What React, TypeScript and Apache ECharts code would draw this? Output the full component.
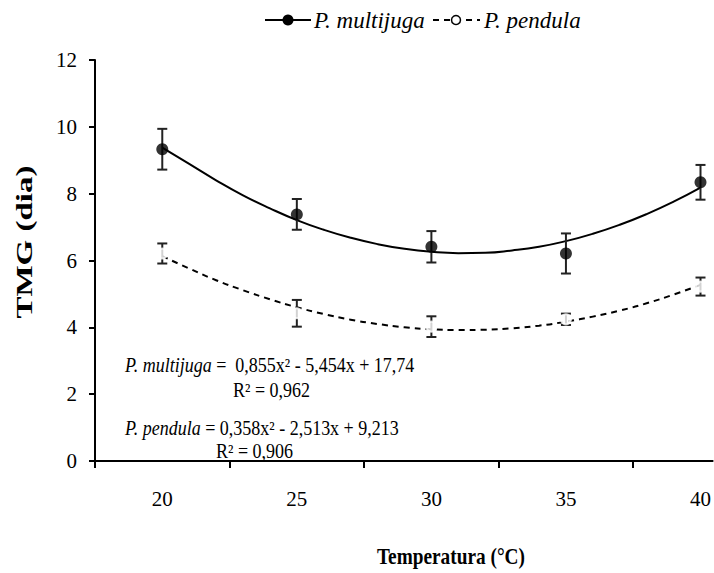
import React, { useEffect, useRef } from "react";
import * as echarts from "echarts";

// ---- data ----
const temps = [20, 25, 30, 35, 40];
const xLabels = [20, 25, 30, 35, 40];
const xTickPositions = [17.5, 22.5, 27.5, 32.5, 37.5];
const multijugaMean = [9.33, 7.38, 6.41, 6.21, 8.34];
const multijugaErr = [0.61, 0.46, 0.47, 0.6, 0.52];
const pendulaMean = [6.21, 4.42, 4.02, 4.24, 5.22];
const pendulaErr = [0.3, 0.4, 0.31, 0.17, 0.27];
// fitted trend curves at each degree
const fitX = [20, 21, 22, 23, 24, 25, 26, 27, 28, 29, 30, 31, 32, 33, 34, 35, 36, 37, 38, 39, 40];
const multijugaFit = [9.38, 8.89, 8.4, 7.95, 7.56, 7.21, 6.92, 6.68, 6.49, 6.35, 6.26, 6.22, 6.23, 6.3, 6.41, 6.58, 6.8, 7.07, 7.39, 7.76, 8.18];
const pendulaFit = [6.13, 5.76, 5.41, 5.11, 4.84, 4.6, 4.4, 4.23, 4.1, 4.0, 3.94, 3.92, 3.93, 3.97, 4.05, 4.17, 4.32, 4.5, 4.72, 4.98, 5.27];

const FONT = "Liberation Serif";

export default function App() {
  const ref = useRef<HTMLDivElement>(null);
  useEffect(() => {
    document.body.style.margin = "0";
    if (!ref.current) return;
    const chart = echarts.init(ref.current, null, { renderer: "svg" });

    const pairs = (xs: number[], ys: number[]) => xs.map((x, i) => [x, ys[i]]);
    const errData = (m: number[], e: number[]) =>
      temps.map((t, i) => [t, m[i] - e[i], m[i] + e[i]]);

    const errorSeries = (name: string, data: number[][]) => ({
      type: "custom",
      name,
      data,
      z: 3,
      renderItem: (params: any, api: any) => {
        const x = api.value(0);
        const lo = api.coord([x, api.value(1)]);
        const hi = api.coord([x, api.value(2)]);
        const w = 5;
        const st = { stroke: "#222", lineWidth: 2 };
        return {
          type: "group",
          children: [
            { type: "line", shape: { x1: hi[0], y1: hi[1], x2: lo[0], y2: lo[1] }, style: st },
            { type: "line", shape: { x1: hi[0] - w, y1: hi[1], x2: hi[0] + w, y2: hi[1] }, style: st },
            { type: "line", shape: { x1: lo[0] - w, y1: lo[1], x2: lo[0] + w, y2: lo[1] }, style: st },
          ],
        };
      },
    });

    const eqStyle = (text: string) => ({
      text,
      fontFamily: FONT,
      fontSize: 20,
      fill: "#000",
      textAlign: "left",
      textVerticalAlign: "middle",
      rich: {
        i: { fontFamily: FONT, fontSize: 20, fontStyle: "italic", fill: "#000" },
        n: { fontFamily: FONT, fontSize: 20, fill: "#000" },
      },
    });

    chart.setOption({
      animation: false,
      backgroundColor: "#fff",
      grid: { left: 95, right: 0, top: 60, bottom: 112, containLabel: false },
      xAxis: {
        type: "value",
        min: 17.5,
        max: 40.45,
        axisLine: { show: true, lineStyle: { color: "#000", width: 2 } },
        axisTick: {
          show: true,
          length: 7,
          customValues: xTickPositions,
          lineStyle: { color: "#000", width: 2 },
        },
        axisLabel: {
          customValues: xLabels,
          margin: 27,
          fontFamily: FONT,
          fontSize: 21,
          color: "#000",
        },
        splitLine: { show: false },
      },
      yAxis: {
        type: "value",
        min: 0,
        max: 12,
        interval: 2,
        axisLine: { show: true, lineStyle: { color: "#000", width: 2 } },
        axisTick: { show: true, length: 6, lineStyle: { color: "#000", width: 2 } },
        axisLabel: { margin: 18, fontFamily: FONT, fontSize: 21, color: "#000" },
        splitLine: { show: false },
      },
      series: [
        {
          type: "line",
          name: "multijugaFit",
          data: pairs(fitX, multijugaFit),
          smooth: true,
          symbol: "none",
          lineStyle: { color: "#000", width: 2 },
          z: 2,
        },
        {
          type: "line",
          name: "pendulaFit",
          data: pairs(fitX, pendulaFit),
          smooth: true,
          symbol: "none",
          lineStyle: { color: "#000", width: 2, type: [6, 5] },
          z: 2,
        },
        errorSeries("multijugaErr", errData(multijugaMean, multijugaErr)),
        errorSeries("pendulaErr", errData(pendulaMean, pendulaErr)),
        {
          type: "scatter",
          name: "P. multijuga",
          data: pairs(temps, multijugaMean),
          symbol: "circle",
          symbolSize: 12,
          itemStyle: { color: "#000" },
          z: 4,
        },
        {
          type: "scatter",
          name: "P. pendula",
          data: pairs(temps, pendulaMean),
          symbol: "emptyCircle",
          symbolSize: 10,
          itemStyle: { color: "#fff", borderColor: "#000", borderWidth: 1.6 },
          z: 4,
        },
      ],
      graphic: [
        // legend
        { type: "line", shape: { x1: 265, y1: 20, x2: 311, y2: 20 }, style: { stroke: "#000", lineWidth: 2 } },
        { type: "circle", shape: { cx: 288, cy: 20, r: 5.5 }, style: { fill: "#000" } },
        {
          type: "text",
          x: 314,
          y: 20,
          style: { text: "P. multijuga", fontFamily: FONT, fontSize: 23, fontStyle: "italic", fill: "#000", textAlign: "left", textVerticalAlign: "middle" },
        },
        { type: "line", shape: { x1: 433, y1: 20, x2: 480, y2: 20 }, style: { stroke: "#000", lineWidth: 2, lineDash: [6, 5] } },
        { type: "circle", shape: { cx: 456, cy: 20, r: 4.5 }, style: { fill: "#fff", stroke: "#000", lineWidth: 1.5 } },
        {
          type: "text",
          x: 484,
          y: 20,
          style: { text: "P. pendula", fontFamily: FONT, fontSize: 23, fontStyle: "italic", fill: "#000", textAlign: "left", textVerticalAlign: "middle" },
        },
        // equations
        { type: "text", x: 125, y: 365, scaleX: 0.9, style: eqStyle("{i|P. multijuga}{n| =  0,855x² - 5,454x + 17,74}") },
        { type: "text", x: 233, y: 390, scaleX: 0.9, style: eqStyle("{n|R² = 0,962}") },
        { type: "text", x: 125, y: 428, scaleX: 0.9, style: eqStyle("{i|P. pendula}{n| = 0,358x² - 2,513x + 9,213}") },
        { type: "text", x: 216, y: 451, scaleX: 0.9, style: eqStyle("{n|R² = 0,906}") },
        // axis titles
        {
          type: "text",
          x: 451,
          y: 556,
          scaleX: 0.84,
          style: { text: "Temperatura (°C)", fontFamily: FONT, fontSize: 23, fontWeight: "bold", fill: "#000", textAlign: "center", textVerticalAlign: "middle" },
        },
        {
          type: "text",
          x: 24,
          y: 242,
          rotation: Math.PI / 2,
          scaleY: 0.72,
          style: { text: "TMG (dia)", fontFamily: FONT, fontSize: 33, fontWeight: "bold", fill: "#000", textAlign: "center", textVerticalAlign: "middle" },
        },
      ],
    });
    return () => chart.dispose();
  }, []);
  return <div ref={ref} style={{ width: 714, height: 573 }} />;
}
